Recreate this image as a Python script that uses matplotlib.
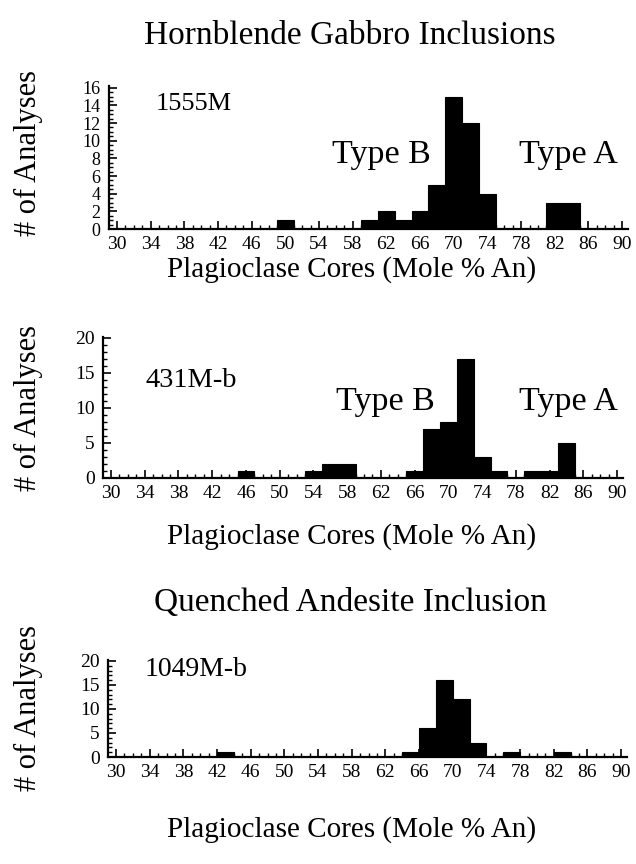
import matplotlib
matplotlib.use("Agg")
import matplotlib.pyplot as plt
from matplotlib.ticker import MultipleLocator

plt.rcParams['font.family'] = ['Liberation Serif', 'DejaVu Serif']

# ---- data ----
xticks = list(range(30, 91, 4))

p1_centers = [50, 60, 62, 64, 66, 68, 70, 72, 74, 82, 84]
p1_counts  = [1, 1, 2, 1, 2, 5, 15, 12, 4, 3, 3]

p2_centers = [46, 54, 56, 58, 66, 68, 70, 72, 74, 76, 80, 82, 84]
p2_counts  = [1, 1, 2, 2, 1, 7, 8, 17, 3, 1, 1, 1, 5]

p3_centers = [43, 65, 67, 69, 71, 73, 77, 83]
p3_counts  = [1, 1, 6, 16, 12, 3, 1, 1]

bin_width = 2
W, H = 636, 864
fig = plt.figure(figsize=(W / 100, H / 100), dpi=100)


def fx(px):
    return px / W


def fy(py):
    return 1 - py / H


def make_panel(rect_px, centers, counts, ylim, ymajor, yminor, label, lpos, lfs, ylab_fs):
    l, t, r, b = rect_px
    ax = fig.add_axes([fx(l), fy(b), (r - l) / W, (b - t) / H])
    ax.bar(centers, counts, width=bin_width, color='black', edgecolor='black', linewidth=0.8)
    ax.set_xlim(29.05, 90.7)
    ax.set_ylim(*ylim)
    for s in ['top', 'right']:
        ax.spines[s].set_visible(False)
    for s in ['left', 'bottom']:
        ax.spines[s].set_linewidth(1.6)
    ax.set_xticks(xticks)
    ax.xaxis.set_minor_locator(MultipleLocator(1))
    ax.yaxis.set_major_locator(MultipleLocator(ymajor))
    ax.yaxis.set_minor_locator(MultipleLocator(yminor))
    ax.tick_params(axis='both', which='major', direction='in', length=6, width=1.2,
                   labelsize=14, pad=5)
    ax.tick_params(axis='both', which='minor', direction='in', length=3, width=1.0)
    ax.tick_params(axis='y', which='major', labelsize=ylab_fs, pad=6)
    ax.text(lpos[0], lpos[1], label, transform=ax.transAxes, fontsize=lfs, va='center', ha='left')
    return ax


ax1 = make_panel((109, 86, 628, 229), p1_centers, p1_counts, (0, 16.2), 2, 0.5,
                 '1555M', (0.089, 0.874), 19, 13)
ax2 = make_panel((103, 337, 623, 478), p2_centers, p2_counts, (0, 20.1), 5, 1,
                 '431M-b', (0.081, 0.695), 20.5, 14)
ax3 = make_panel((108, 660, 627, 757), p3_centers, p3_counts, (0, 20.2), 5, 1,
                 '1049M-b', (0.071, 0.897), 20, 14)

# annotations
fig.text(fx(381), fy(155), 'Type B', fontsize=24.5, ha='center', va='center')
fig.text(fx(568), fy(155), 'Type A', fontsize=24.5, ha='center', va='center')
fig.text(fx(385), fy(402), 'Type B', fontsize=24.5, ha='center', va='center')
fig.text(fx(568), fy(402), 'Type A', fontsize=24.5, ha='center', va='center')

# titles and axis labels
fig.text(fx(350), fy(36), 'Hornblende Gabbro Inclusions', fontsize=24, ha='center', va='center')
fig.text(fx(350), fy(603), 'Quenched Andesite Inclusion', fontsize=24, ha='center', va='center')
for yy in (270, 537, 830):
    fig.text(fx(352), fy(yy), 'Plagioclase Cores (Mole % An)', fontsize=21, ha='center', va='center')
for yy in (153, 408, 708):
    fig.text(fx(28), fy(yy), '# of Analyses', fontsize=22, ha='center', va='center', rotation=90)

fig.savefig('out.png', dpi=100)
